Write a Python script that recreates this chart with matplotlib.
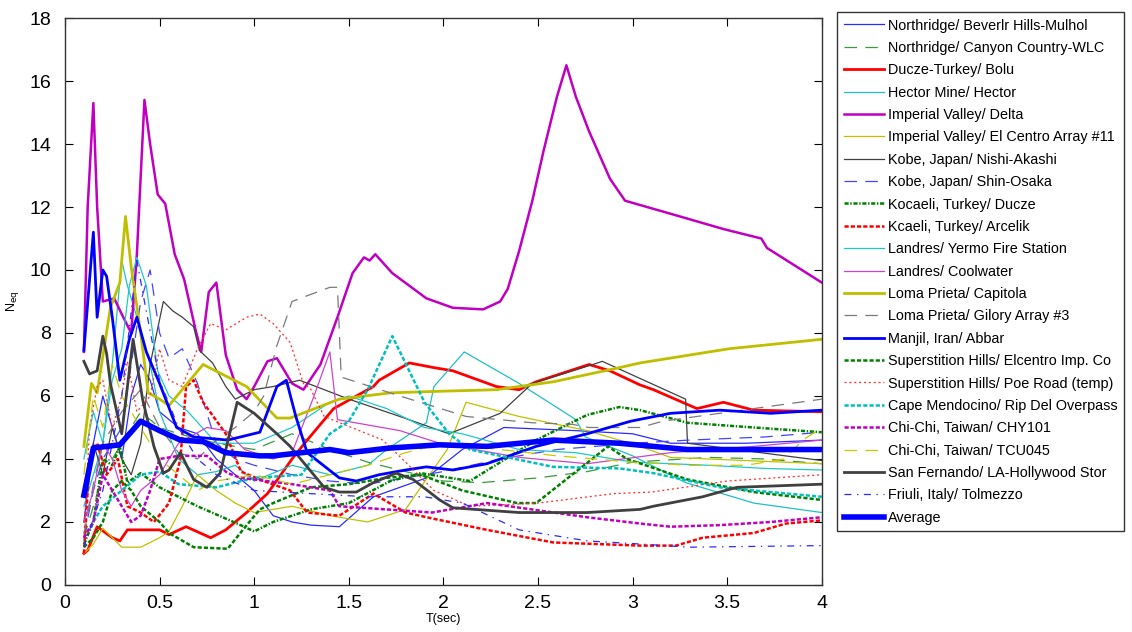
import matplotlib
matplotlib.use("Agg")
import matplotlib.pyplot as plt

plt.rcParams['font.family'] = ['Liberation Sans', 'DejaVu Sans']
plt.rcParams['lines.scale_dashes'] = False

# ── series (T in sec, N_eq) ─────────────────────────────────────────────────
T_bh = [0.1, 0.15, 0.2, 0.25, 0.3, 0.35, 0.4, 0.45, 0.5, 0.6, 0.7, 0.8, 0.9, 1.0, 1.1, 1.2, 1.3, 1.45,
        1.63, 1.91, 2.1, 2.32, 2.7, 3.0, 3.2, 3.6, 4.0]
N_bh = [2.0, 4.5, 6.0, 5.0, 4.0, 6.0, 7.0, 6.5, 5.5, 5.0, 4.8, 4.0, 3.5, 3.0, 2.2, 2.0, 1.9, 1.85,
        2.8, 3.4, 4.3, 5.0, 4.9, 4.8, 4.5, 4.5, 4.6]

T_cc = [0.1, 0.15, 0.2, 0.3, 0.4, 0.5, 0.6, 0.8, 1.0, 1.2, 1.4, 1.6, 1.8, 2.0, 2.2, 2.5, 2.76, 3.0, 3.4,
        3.7, 4.0]
N_cc = [1.5, 2.5, 3.5, 4.5, 5.5, 5.0, 4.8, 4.5, 4.3, 4.8, 4.3, 3.9, 3.6, 3.3, 3.25, 3.4, 3.6, 3.9, 4.05,
        4.0, 3.85]

T_bolu = [0.1, 0.12, 0.17, 0.25, 0.29, 0.33, 0.5, 0.55, 0.64, 0.77, 0.85, 0.96, 1.07, 1.2, 1.28, 1.42,
          1.63, 1.66, 1.82, 1.95, 2.05, 2.28, 2.4, 2.49, 2.77, 2.88, 3.04, 3.11, 3.34, 3.48, 3.64, 4.0]
N_bolu = [1.0, 1.1, 1.85, 1.5, 1.4, 1.75, 1.75, 1.6, 1.85, 1.5, 1.75, 2.3, 2.9, 4.0, 4.6, 5.6,
          6.3, 6.5, 7.05, 6.9, 6.8, 6.3, 6.2, 6.45, 7.0, 6.8, 6.35, 6.2, 5.6, 5.8, 5.55, 5.5]

T_hector = [0.1, 0.15, 0.2, 0.25, 0.3, 0.33, 0.38, 0.45, 0.5, 0.6, 0.7, 0.8, 0.9, 1.0, 1.2, 1.4, 1.6,
            1.7, 1.91, 1.95, 2.11, 2.4, 2.7, 2.75, 3.0, 3.28, 3.64, 4.0]
N_hector = [2.5, 3.5, 4.5, 7.0, 10.3, 9.5, 8.5, 7.0, 5.5, 4.0, 3.5, 3.6, 3.8, 3.3, 3.8, 3.5, 3.8,
            4.3, 5.15, 6.3, 7.4, 6.4, 5.25, 4.7, 4.1, 3.25, 2.6, 2.3]

T_delta = [0.1, 0.12, 0.15, 0.17, 0.2, 0.26, 0.3, 0.35, 0.38, 0.42, 0.45, 0.49, 0.53, 0.58, 0.63, 0.69,
           0.72, 0.76, 0.8, 0.85, 0.91, 0.96, 1.0, 1.07, 1.12, 1.2, 1.26, 1.35, 1.44, 1.52, 1.58, 1.61,
           1.64, 1.73, 1.91, 2.05, 2.21, 2.3, 2.34, 2.4, 2.47, 2.53, 2.6, 2.65, 2.7, 2.77, 2.88, 2.96,
           3.25, 3.48, 3.68, 3.71, 4.0]
N_delta = [7.4, 12.0, 15.3, 12.0, 9.0, 9.1, 8.6, 8.0, 10.5, 15.4, 14.0, 12.4, 12.1, 10.5, 9.7, 8.1,
           7.4, 9.3, 9.6, 7.3, 6.2, 5.9, 6.3, 7.1, 7.2, 6.4, 6.2, 7.0, 8.5, 9.9, 10.4, 10.3,
           10.5, 9.9, 9.1, 8.8, 8.75, 9.0, 9.4, 10.6, 12.2, 13.8, 15.5, 16.5, 15.5, 14.4, 12.9, 12.2,
           11.7, 11.3, 11.0, 10.7, 9.6]

T_elc11 = [0.1, 0.15, 0.2, 0.25, 0.3, 0.4, 0.5, 0.55, 0.62, 0.7, 0.8, 0.9, 1.0, 1.2, 1.4, 1.6, 1.8,
           1.88, 2.02, 2.12, 2.4, 2.76, 3.04, 3.2, 4.0]
N_elc11 = [1.0, 1.3, 1.8, 1.5, 1.2, 1.2, 1.5, 1.7, 2.5, 3.5, 3.0, 2.6, 2.3, 2.5, 2.2, 2.0, 2.4,
           3.1, 4.3, 5.8, 5.35, 4.9, 4.4, 4.05, 3.85]

T_nishi = [0.1, 0.15, 0.2, 0.25, 0.3, 0.35, 0.4, 0.45, 0.52, 0.57, 0.62, 0.68, 0.71, 0.78, 0.85, 0.9,
           1.0, 1.1, 1.24, 1.5, 1.77, 2.03, 2.3, 2.47, 2.79, 2.84, 3.28, 3.29, 4.0]
N_nishi = [3.0, 4.5, 3.5, 5.0, 4.0, 3.5, 4.5, 7.0, 9.0, 8.7, 8.5, 8.2, 7.45, 7.05, 6.3, 5.9,
           6.2, 6.3, 6.5, 5.9, 5.35, 4.8, 5.45, 6.4, 7.0, 7.1, 5.9, 4.5, 3.95]

T_osaka = [0.1, 0.15, 0.2, 0.3, 0.35, 0.4, 0.45, 0.5, 0.55, 0.62, 0.7, 0.8, 0.9, 1.0, 1.2, 1.4, 1.6,
           1.8, 2.0, 2.3, 2.6, 3.0, 3.3, 3.7, 4.0]
N_osaka = [1.5, 3.0, 4.0, 5.0, 7.0, 9.0, 10.0, 8.0, 7.2, 7.5, 6.4, 4.5, 4.0, 3.8, 3.5, 3.3, 3.2,
           3.4, 3.6, 4.0, 4.3, 4.5, 4.6, 4.7, 4.85]

T_ducze = [0.1, 0.15, 0.2, 0.25, 0.29, 0.33, 0.4, 0.5, 0.7, 0.91, 1.0, 1.1, 1.3, 1.5, 1.72, 1.88,
           2.14, 2.49, 2.76, 2.93, 3.04, 3.29, 3.64, 4.0]
N_ducze = [1.3, 2.0, 4.0, 3.8, 4.4, 3.25, 3.55, 3.1, 2.5, 1.95, 1.7, 2.0, 2.4, 2.6, 3.3, 3.55,
           3.3, 4.6, 5.4, 5.65, 5.55, 5.15, 5.0, 4.85]

T_arcelik = [0.1, 0.13, 0.17, 0.22, 0.28, 0.33, 0.4, 0.47, 0.55, 0.61, 0.64, 0.68, 0.73, 0.85, 0.93,
             1.05, 1.19, 1.28, 1.45, 1.63, 1.8, 1.95, 2.23, 2.58, 3.04, 3.23, 3.37, 3.64, 3.81, 4.0]
N_arcelik = [1.0, 4.0, 4.5, 3.5, 4.0, 2.5, 2.3, 2.0, 2.6, 4.0, 6.3, 6.5, 5.8, 4.8, 3.6,
             3.3, 3.0, 2.3, 2.2, 2.9, 2.3, 2.1, 1.75, 1.35, 1.25, 1.25, 1.5, 1.65, 1.95, 2.05]

T_yermo = [0.1, 0.15, 0.2, 0.25, 0.3, 0.34, 0.38, 0.43, 0.49, 0.55, 0.65, 0.8, 1.0, 1.2, 1.4, 1.5,
           1.7, 1.9, 2.1, 2.4, 2.7, 3.0, 3.4, 3.7, 4.0]
N_yermo = [4.0, 5.5, 4.5, 6.5, 7.5, 9.5, 10.4, 9.5, 6.8, 6.0, 5.5, 4.5, 4.5, 5.0, 5.8, 6.0,
           5.6, 5.0, 4.8, 4.3, 4.2, 3.9, 3.8, 3.7, 3.65]

T_coolw = [0.1, 0.15, 0.2, 0.25, 0.3, 0.35, 0.4, 0.5, 0.6, 0.75, 0.85, 0.95, 1.1, 1.2, 1.31, 1.4,
           1.44, 1.77, 1.98, 2.4, 2.76, 3.2, 3.64, 4.0]
N_coolw = [2.0, 3.0, 4.5, 4.0, 3.0, 2.5, 3.0, 3.5, 4.5, 5.0, 4.9, 4.3, 4.0, 4.2, 5.9, 7.4,
           5.25, 4.9, 4.5, 4.05, 3.85, 4.2, 4.4, 4.6]

T_capit = [0.1, 0.14, 0.17, 0.24, 0.29, 0.32, 0.35, 0.4, 0.44, 0.5, 0.55, 0.73, 0.96, 1.12, 1.19,
           1.45, 1.72, 1.98, 2.28, 2.58, 2.93, 3.04, 3.51, 4.0]
N_capit = [4.4, 6.4, 6.1, 8.8, 9.6, 11.7, 10.1, 8.0, 6.1, 5.9, 5.7, 7.0, 6.3, 5.3, 5.3,
           5.9, 6.1, 6.15, 6.2, 6.45, 6.9, 7.05, 7.5, 7.8]

T_gilroy = [0.1, 0.15, 0.2, 0.3, 0.4, 0.5, 0.6, 0.7, 0.8, 0.9, 1.0, 1.05, 1.12, 1.2, 1.31, 1.4, 1.44,
            1.46, 1.77, 2.12, 2.47, 2.68, 2.77, 3.04, 3.16, 4.0]
N_gilroy = [1.6, 3.2, 4.5, 5.5, 6.2, 5.0, 4.2, 4.0, 4.6, 5.0, 5.5, 6.0, 7.6, 9.0, 9.25, 9.45, 9.45,
            6.6, 6.0, 5.35, 5.15, 5.1, 5.0, 5.0, 5.2, 5.9]

T_manjil = [0.1, 0.15, 0.17, 0.2, 0.22, 0.25, 0.29, 0.34, 0.38, 0.43, 0.5, 0.59, 0.68, 0.86, 1.03,
            1.12, 1.17, 1.22, 1.28, 1.45, 1.54, 1.66, 1.8, 1.91, 2.05, 2.23, 2.49, 2.76, 2.99, 3.2,
            3.46, 3.73, 4.0]
N_manjil = [7.45, 11.2, 8.5, 10.0, 9.8, 8.5, 6.5, 7.8, 8.5, 7.4, 6.4, 5.0, 4.7, 4.6, 4.85,
            6.3, 6.5, 5.35, 4.2, 3.4, 3.3, 3.5, 3.65, 3.75, 3.65, 3.85, 4.4, 4.8, 5.2, 5.45,
            5.55, 5.45, 5.55]

T_shelc = [0.1, 0.15, 0.2, 0.25, 0.3, 0.35, 0.4, 0.5, 0.55, 0.68, 0.86, 0.94, 1.03, 1.1, 1.3, 1.5,
           1.7, 1.88, 2.1, 2.39, 2.49, 2.87, 2.97, 3.29, 3.64, 4.0]
N_shelc = [1.2, 1.5, 2.0, 3.0, 3.3, 3.0, 2.5, 2.0, 1.65, 1.2, 1.15, 1.75, 2.4, 2.6, 3.1, 3.2,
           3.4, 3.5, 3.0, 2.6, 2.6, 4.4, 4.0, 3.35, 2.95, 2.7]

T_poe = [0.1, 0.13, 0.17, 0.2, 0.25, 0.3, 0.33, 0.38, 0.45, 0.5, 0.55, 0.62, 0.7, 0.77, 0.85, 0.96,
         1.03, 1.1, 1.19, 1.26, 1.3, 1.37, 1.68, 1.8, 1.95, 2.14, 2.5, 2.9, 3.1, 3.5, 4.0]
N_poe = [1.5, 5.0, 6.3, 6.5, 5.0, 6.0, 7.1, 5.5, 6.0, 7.5, 6.5, 6.3, 7.5, 8.3, 8.1, 8.5,
         8.6, 8.3, 7.7, 6.4, 6.2, 5.35, 4.6, 3.9, 3.0, 2.5, 2.6, 2.9, 2.95, 3.3, 3.5]

T_cape = [0.1, 0.2, 0.3, 0.4, 0.5, 0.6, 0.8, 1.0, 1.25, 1.4, 1.5, 1.6, 1.73, 1.9, 2.03, 2.14, 2.58,
          2.93, 3.11, 3.46, 4.0]
N_cape = [1.5, 2.5, 3.0, 3.5, 3.6, 3.2, 3.1, 3.4, 3.5, 4.8, 5.2, 6.2, 7.9, 5.8, 4.8, 4.3, 3.75,
          3.7, 3.55, 3.1, 2.8]

T_chy = [0.1, 0.15, 0.2, 0.25, 0.3, 0.35, 0.4, 0.45, 0.5, 0.6, 0.75, 0.86, 0.93, 1.2, 1.4, 1.45,
         1.94, 2.23, 2.76, 3.04, 3.2, 3.46, 3.73, 4.0]
N_chy = [1.5, 2.0, 3.5, 3.0, 2.5, 2.0, 2.2, 3.0, 4.0, 4.1, 4.1, 3.55, 3.4, 3.2, 3.0, 2.5,
         2.3, 2.6, 2.15, 1.95, 1.85, 1.9, 2.0, 2.15]

T_tcu = [0.1, 0.15, 0.2, 0.25, 0.3, 0.4, 0.5, 0.6, 0.7, 0.8, 1.0, 1.2, 1.4, 1.6, 1.8, 2.0, 2.3, 2.6,
         3.0, 3.3, 3.6, 3.8, 3.9, 4.0]
N_tcu = [3.5, 6.0, 5.0, 7.0, 6.0, 5.0, 4.0, 3.5, 3.0, 3.3, 3.5, 3.2, 3.5, 3.8, 4.2, 4.5, 4.3, 4.1,
         3.9, 3.8, 3.8, 4.0, 4.6, 5.0]

T_sanf = [0.1, 0.13, 0.17, 0.2, 0.22, 0.24, 0.3, 0.36, 0.41, 0.47, 0.52, 0.55, 0.61, 0.68, 0.75,
          0.82, 0.91, 1.0, 1.12, 1.19, 1.28, 1.37, 1.45, 1.54, 1.63, 1.75, 1.84, 1.98, 2.05, 2.4,
          2.76, 3.04, 3.11, 3.37, 3.55, 4.0]
N_sanf = [7.1, 6.7, 6.8, 7.9, 7.35, 6.4, 4.8, 7.8, 5.9, 4.4, 3.55, 3.65, 4.2, 3.35, 3.1,
          3.55, 5.8, 5.45, 4.8, 4.4, 3.75, 3.1, 2.95, 2.95, 3.25, 3.55, 3.35, 2.7, 2.45, 2.3,
          2.3, 2.4, 2.5, 2.8, 3.1, 3.2]

T_friuli = [0.1, 0.2, 0.3, 0.38, 0.42, 0.5, 0.6, 0.7, 0.8, 1.0, 1.3, 1.6, 1.9, 2.1, 2.4, 2.76, 3.04,
            3.3, 4.0]
N_friuli = [1.2, 3.0, 6.0, 10.3, 9.0, 6.5, 5.0, 4.0, 3.5, 3.0, 2.9, 2.8, 2.8, 2.6, 1.75, 1.4, 1.3,
            1.2, 1.25]

T_avg = [0.1, 0.15, 0.29, 0.4, 0.5, 0.61, 0.73, 0.85, 1.03, 1.1, 1.4, 1.5, 1.72, 1.98, 2.23, 2.58,
         2.93, 3.29, 4.0]
N_avg = [2.85, 4.35, 4.45, 5.2, 4.9, 4.6, 4.55, 4.2, 4.1, 4.1, 4.3, 4.2, 4.35, 4.45, 4.4, 4.6,
         4.5, 4.3, 4.3]

labels = ['Northridge/ Beverlr Hills-Mulhol', 'Northridge/ Canyon Country-WLC', 'Ducze-Turkey/ Bolu',
          'Hector Mine/ Hector', 'Imperial Valley/ Delta', 'Imperial Valley/ El Centro Array #11',
          'Kobe, Japan/ Nishi-Akashi', 'Kobe, Japan/ Shin-Osaka', 'Kocaeli, Turkey/ Ducze',
          'Kcaeli, Turkey/ Arcelik', 'Landres/ Yermo Fire Station', 'Landres/ Coolwater',
          'Loma Prieta/ Capitola', 'Loma Prieta/ Gilory Array #3', 'Manjil, Iran/ Abbar',
          'Superstition Hills/ Elcentro Imp. Co', 'Superstition Hills/ Poe Road (temp)',
          'Cape Mendocino/ Rip Del Overpass', 'Chi-Chi, Taiwan/ CHY101', 'Chi-Chi, Taiwan/ TCU045',
          'San Fernando/ LA-Hollywood Stor', 'Friuli, Italy/ Tolmezzo', 'Average']

series = [(T_bh, N_bh), (T_cc, N_cc), (T_bolu, N_bolu), (T_hector, N_hector), (T_delta, N_delta),
          (T_elc11, N_elc11), (T_nishi, N_nishi), (T_osaka, N_osaka), (T_ducze, N_ducze),
          (T_arcelik, N_arcelik), (T_yermo, N_yermo), (T_coolw, N_coolw), (T_capit, N_capit),
          (T_gilroy, N_gilroy), (T_manjil, N_manjil), (T_shelc, N_shelc), (T_poe, N_poe),
          (T_cape, N_cape), (T_chy, N_chy), (T_tcu, N_tcu), (T_sanf, N_sanf), (T_friuli, N_friuli),
          (T_avg, N_avg)]

# colour, linewidth, dash pattern (None = solid)
styles = [
    ('#2b2bff', 0.9, None),
    ('#3a9a3a', 0.9, (9, 6)),
    ('#ff0000', 2.0, None),
    ('#20c0c0', 0.9, None),
    ('#c000c0', 1.8, None),
    ('#c0c000', 0.9, None),
    ('#404040', 0.9, None),
    ('#4545ff', 0.9, (9, 6)),
    ('#008000', 1.8, (3, 1.2, 1, 1.2)),
    ('#ff0000', 1.8, (3, 1.5)),
    ('#20c8c8', 0.9, None),
    ('#cc44cc', 0.9, None),
    ('#bfbf00', 2.0, None),
    ('#7a7a7a', 0.9, (9, 6)),
    ('#0000ff', 2.0, None),
    ('#008000', 1.8, (3, 1.5)),
    ('#ff3030', 0.9, (1.5, 2)),
    ('#00bfbf', 1.8, (3, 1.5)),
    ('#c000c0', 1.8, (3, 1.5)),
    ('#c8c800', 0.9, (9, 6)),
    ('#404040', 2.0, None),
    ('#2b2bff', 0.9, (5, 4, 1, 4)),
    ('#0000ff', 4.0, None),
]

fig = plt.figure(figsize=(11.32, 6.32), dpi=100)
ax = fig.add_axes([0.0574, 0.0744, 0.6686, 0.8971])

for (t, n), lab, (c, lw, d) in zip(series, labels, styles):
    ln, = ax.plot(t, n, color=c, lw=lw, label=lab)
    if d is not None:
        ln.set_dashes(d)

ax.set_xlim(0, 4)
ax.set_ylim(0, 18)
ax.set_xticks([0, 0.5, 1, 1.5, 2, 2.5, 3, 3.5, 4])
ax.set_xticklabels(['0', '0.5', '1', '1.5', '2', '2.5', '3', '3.5', '4'])
ax.set_yticks(range(0, 19, 2))
ax.tick_params(direction='in', length=6, width=0.8, top=True, right=True, labelsize=14)
ax.tick_params(axis='y', pad=10)
ax.tick_params(axis='x', pad=7)
for s in ax.spines.values():
    s.set_linewidth(1.0)
    s.set_color('#333333')
ax.set_xlabel('T(sec)', fontsize=9, labelpad=1)
ax.set_ylabel(r'N$_{\rm eq}$', fontsize=9, labelpad=6)

leg = fig.legend(loc='upper left', bbox_to_anchor=(0.7394, 0.981), fontsize=10.4, frameon=True,
                 fancybox=False, edgecolor='#333333', framealpha=1, handlelength=2.8,
                 handletextpad=0.3, labelspacing=0.58, borderpad=0.45, borderaxespad=0)
leg.get_frame().set_linewidth(1.0)

fig.savefig('out.png', dpi=100)
